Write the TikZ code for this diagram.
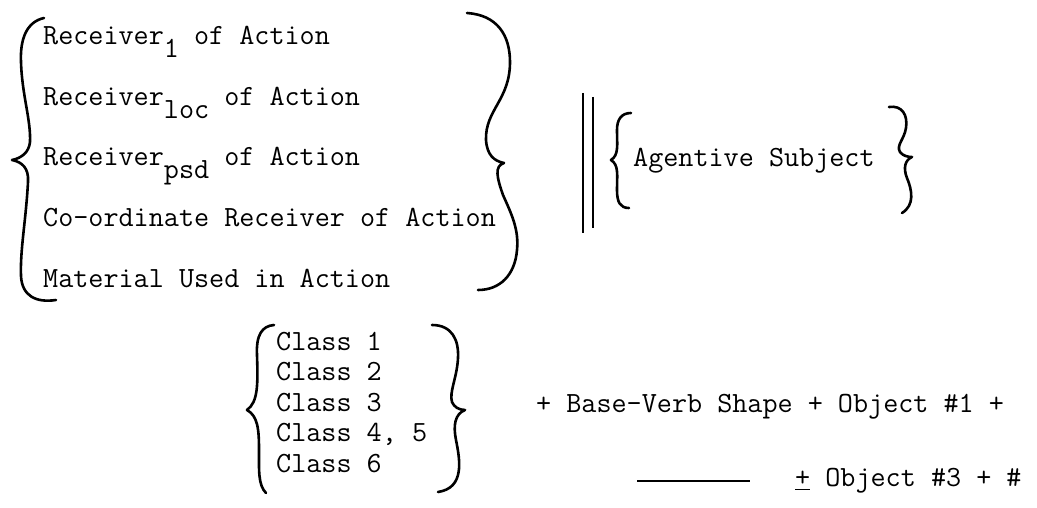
\documentclass[tikz,border=0pt]{standalone}
\usepackage{amsmath}
\newcommand{\typew}{\fontsize{29.3}{31}\selectfont\ttfamily}
\newcommand{\lowr}[1]{\raisebox{-13pt}{#1}}

\begin{document}
\begin{tikzpicture}[x=1pt, y=-1pt,
    txt/.style={anchor=base west, inner sep=0pt, font=\typew},
    curly/.style={line width=2.6pt, line cap=round, line join=round},
    bar/.style={line width=2.4pt}]
            \useasboundingbox (0, 0) rectangle (1037, 508);
            \node[txt] (recone) at (43, 45) {Receiver\lowr{1} of Action};
            \node[txt] (recloc) at (43, 106) {Receiver\lowr{loc} of Action};
            \node[txt] (recpsd) at (43, 166) {Receiver\lowr{psd} of Action};
            \node[txt] (coord) at (43, 226) {Co-ordinate Receiver of Action};
            \node[txt] (material) at (43, 287) {Material Used in Action};
            \draw[curly] (44, 18) .. controls (26, 22) and (20, 40) .. (21, 62) .. controls (22, 95) and (31, 120) .. (30, 142) .. controls (29, 152) and (22, 158) .. (12, 160) .. controls (22, 162) and (29, 168) .. (28, 182) .. controls (26, 220) and (20, 250) .. (21, 276) .. controls (22, 296) and (36, 303) .. (56, 300);
            \draw[curly] (467, 13) .. controls (497, 15) and (510, 35) .. (510, 62) .. controls (510, 100) and (485, 110) .. (486, 140) .. controls (487, 155) and (494, 161) .. (504, 163) .. controls (494, 166) and (497, 178) .. (503, 195) .. controls (512, 215) and (519, 230) .. (517, 250) .. controls (515, 275) and (500, 290) .. (478, 290);
            \draw[bar] (583, 93)--(583, 233);
            \draw[bar] (593, 97)--(593, 228);
            \node[txt] (agent) at (633, 167) {Agentive Subject};
            \draw[curly] (631, 113) .. controls (621, 113) and (617, 120) .. (617, 130) .. controls (617, 145) and (619, 155) .. (611, 160) .. controls (619, 165) and (617, 175) .. (617, 190) .. controls (617, 202) and (620, 208) .. (629, 208);
            \draw[curly] (889, 107) .. controls (902, 105) and (908, 115) .. (906, 128) .. controls (904, 140) and (896, 145) .. (900, 152) .. controls (903, 156) and (908, 157) .. (912, 157) .. controls (905, 160) and (903, 168) .. (907, 178) .. controls (912, 190) and (915, 205) .. (902, 213);
            \node[txt] (classone) at (276, 350) {Class 1};
            \node[txt] (classtwo) at (276, 380.5) {Class 2};
            \node[txt] (classthree) at (276, 411) {Class 3};
            \node[txt] (classfour) at (276, 441.5) {Class 4, 5};
            \node[txt] (classsix) at (276, 472) {Class 6};
            \draw[curly] (274, 325) .. controls (262, 326) and (256, 335) .. (257, 355) .. controls (258, 385) and (258, 402) .. (247, 410) .. controls (258, 416) and (259, 430) .. (259, 450) .. controls (259, 470) and (258, 485) .. (266, 493);
            \draw[curly] (432, 325) .. controls (452, 325) and (459, 340) .. (458, 358) .. controls (457, 378) and (449, 392) .. (452, 402) .. controls (454, 407) and (459, 410) .. (465, 410) .. controls (455, 414) and (453, 425) .. (456, 440) .. controls (460, 460) and (465, 488) .. (438, 492);
            \node[txt] (baseverb) at (536, 412) {+ Base-Verb Shape + Object \#1 +};
            \draw[line width=1.8pt] (637, 481)--(750, 481);
            \node[txt] (objthree) at (795, 486) {\underline{+} Object \#3 + \#};
\end{tikzpicture}
\end{document}
